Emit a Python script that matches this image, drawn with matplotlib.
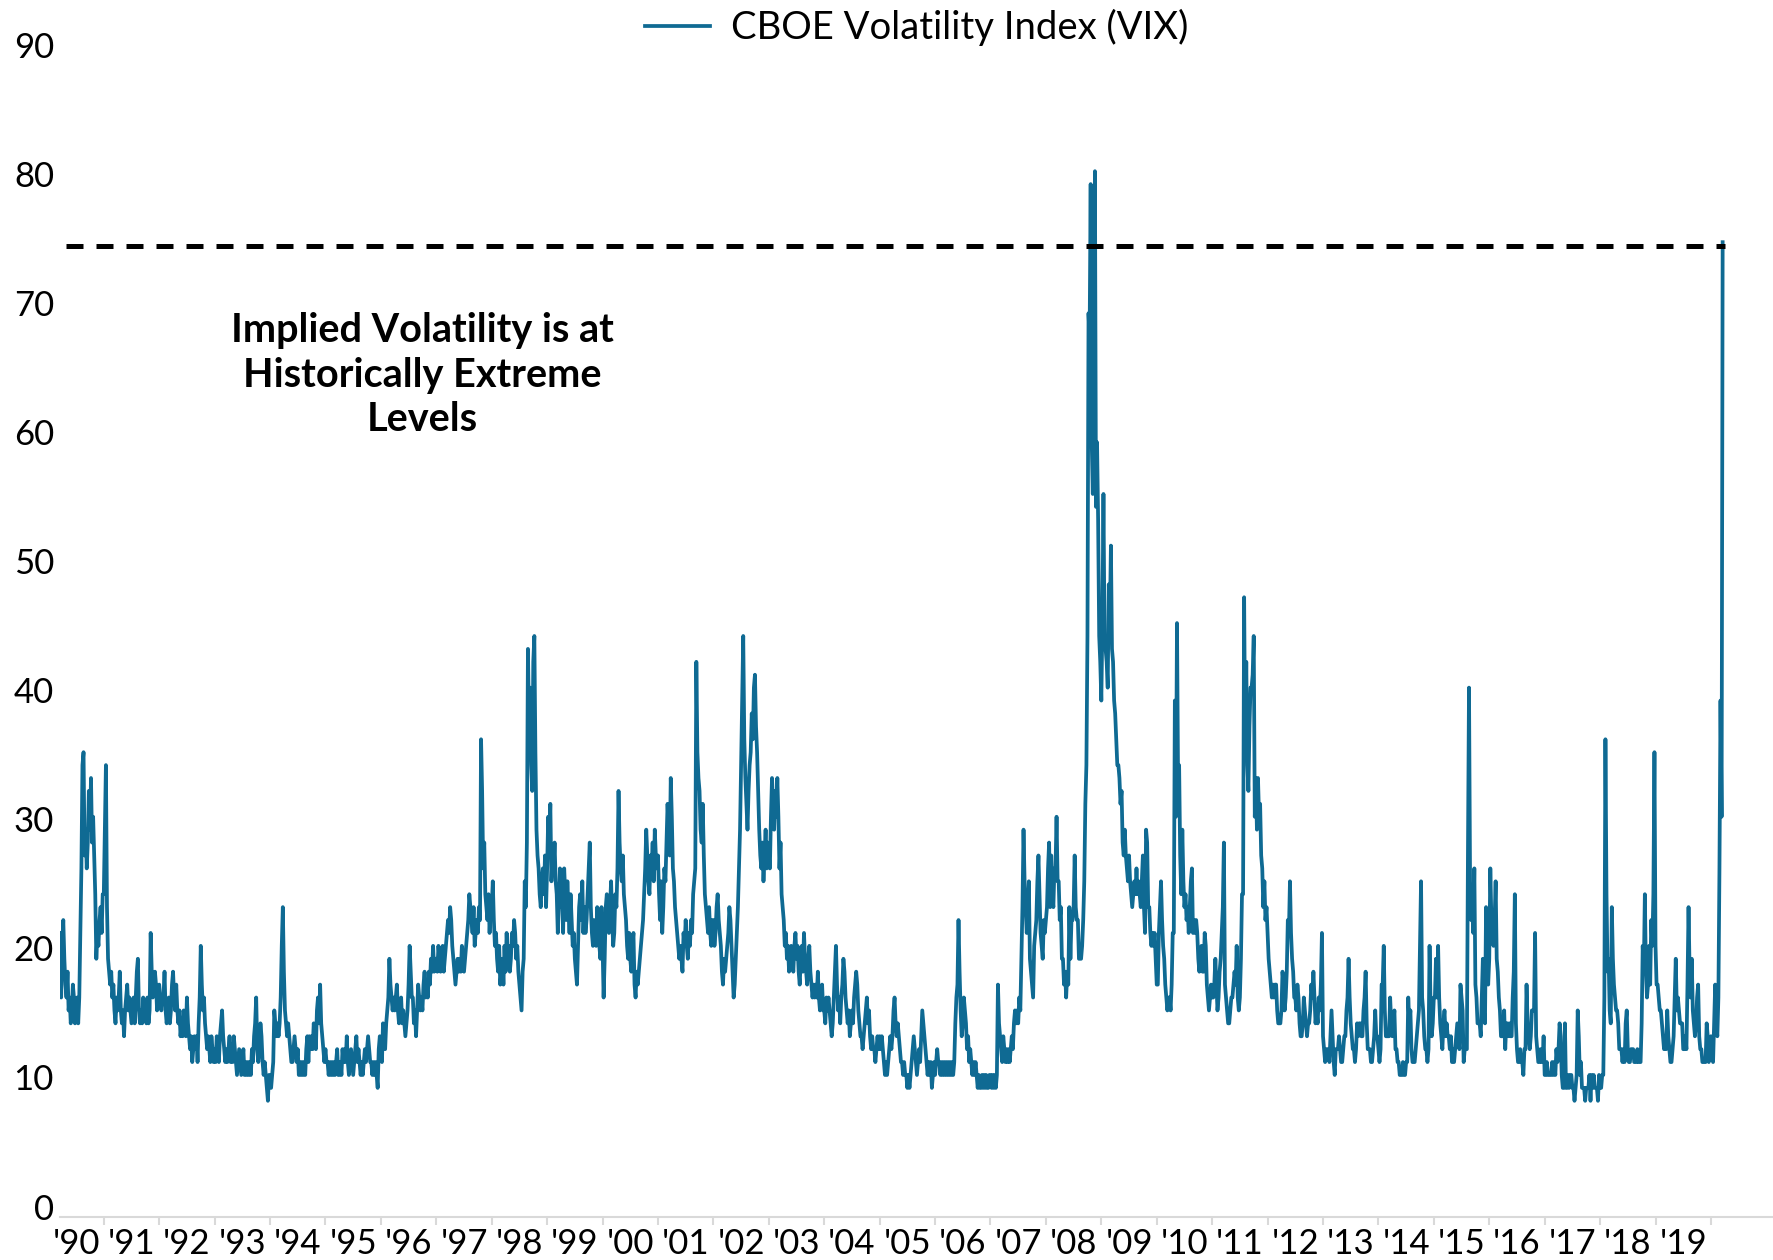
import matplotlib.pyplot as plt
from matplotlib.transforms import ScaledTranslation

# weekly VIX closes, one list per calendar year
vix_1990 = [22, 17, 21, 23, 20, 18, 17, 19, 16, 17, 15, 16, 18, 17, 15, 16, 17, 15, 17, 22,
            27, 35, 36, 28, 30, 27, 29, 33, 30, 34, 29, 31, 28, 25, 20, 22, 21, 23, 24, 22, 25]
vix_1991 = [25, 30, 35, 24, 20, 19, 18, 19, 17, 18, 16, 15, 17, 16, 17, 19, 16, 15, 16, 14, 16, 17, 18, 16, 17, 16,
            15, 16, 17, 15, 17, 19, 20, 16, 15, 16, 15, 17, 16, 16, 15, 17, 15, 16, 22, 19, 17, 18, 19, 18, 16, 17]
vix_1992 = [18, 17, 16, 17, 17, 19, 16, 15, 16, 17, 15, 16, 18, 19, 17, 16, 18, 16, 15, 16, 14, 15, 14, 16, 15, 14,
            17, 15, 14, 13, 14, 12, 13, 14, 13, 14, 12, 15, 17, 21, 18, 16, 17, 15, 14, 13, 14, 13, 12, 14, 13, 12]
vix_1993 = [13, 12, 14, 13, 12, 14, 15, 16, 14, 13, 12, 13, 12, 13, 14, 12, 13, 12, 14, 13, 12, 11, 12, 13, 12, 11,
            12, 13, 11, 12, 11, 12, 11, 12, 11, 13, 12, 14, 15, 17, 13, 12, 13, 15, 14, 12, 11, 12, 11, 10, 9, 11]
vix_1994 = [11, 10, 11, 12, 16, 15, 14, 15, 14, 15, 17, 21, 24, 19, 16, 15, 14, 15, 14, 13, 12, 12, 13, 14, 13, 12,
            13, 11, 12, 11, 12, 11, 12, 11, 13, 14, 12, 14, 13, 14, 13, 15, 14, 13, 16, 17, 15, 18, 15, 14, 13, 12]
vix_1995 = [13, 12, 12, 11, 12, 11, 12, 11, 12, 11, 12, 13, 11, 11, 12, 11, 13, 12, 13, 12, 14, 12, 11, 12, 13, 12,
            11, 12, 13, 14, 12, 13, 12, 11, 12, 11, 12, 13, 12, 13, 14, 13, 12, 12, 11, 12, 11, 12, 11, 10, 13, 14]
vix_1996 = [13, 12, 15, 14, 13, 15, 16, 17, 20, 18, 17, 16, 17, 16, 17, 18, 16, 15, 16, 17, 15, 16, 15, 14, 15, 16,
            18, 21, 19, 17, 17, 15, 16, 14, 16, 18, 17, 16, 17, 16, 18, 19, 17, 18, 17, 19, 18, 20, 19, 21, 19, 20]
vix_1997 = [20, 19, 21, 20, 19, 20, 21, 19, 20, 21, 22, 23, 22, 24, 23, 21, 20, 19, 18, 19, 20, 19, 20, 19, 21, 20,
            19, 20, 21, 22, 23, 25, 24, 23, 22, 24, 21, 22, 23, 22, 24, 23, 37, 33, 27, 29, 25, 24, 23, 25, 22, 24]
vix_1998 = [24, 26, 23, 21, 22, 20, 19, 21, 18, 19, 20, 18, 21, 19, 22, 20, 21, 19, 20, 22, 21, 23, 22, 20, 21, 19,
            18, 17, 16, 19, 20, 26, 24, 29, 44, 38, 41, 35, 33, 43, 45, 36, 30, 28, 27, 25, 24, 26, 27, 25, 28, 24]
vix_1999 = [27, 31, 29, 32, 26, 28, 27, 29, 26, 25, 22, 24, 27, 24, 26, 22, 27, 25, 23, 26, 24, 22, 25, 23, 21, 22,
            20, 19, 18, 21, 24, 25, 23, 26, 22, 24, 22, 23, 25, 27, 29, 24, 22, 21, 23, 22, 21, 24, 22, 21, 20, 24]
vix_2000 = [21, 17, 20, 24, 25, 23, 22, 24, 26, 23, 21, 22, 25, 24, 27, 33, 29, 27, 26, 28, 25, 24, 23, 21, 20, 22,
            20, 19, 21, 22, 18, 17, 19, 18, 19, 20, 21, 22, 23, 25, 27, 30, 28, 26, 25, 28, 27, 29, 26, 30, 28, 27]
vix_2001 = [28, 25, 23, 26, 22, 24, 27, 26, 29, 32, 30, 28, 34, 31, 27, 26, 24, 23, 22, 21, 20, 21, 20, 19, 22, 21,
            23, 21, 20, 22, 21, 23, 22, 25, 26, 27, 43, 36, 34, 33, 30, 29, 32, 28, 25, 24, 23, 22, 24, 22, 21, 23]
vix_2002 = [23, 21, 22, 24, 25, 23, 22, 21, 19, 18, 20, 19, 20, 21, 22, 24, 23, 21, 19, 17, 18, 20, 22, 24, 27, 30,
            35, 40, 45, 37, 34, 32, 30, 33, 35, 36, 39, 37, 41, 42, 38, 36, 33, 30, 28, 27, 29, 26, 28, 30, 27, 29]
vix_2003 = [28, 27, 31, 34, 32, 30, 33, 31, 34, 31, 27, 29, 25, 24, 23, 21, 22, 20, 21, 19, 20, 21, 20, 19, 21, 22,
            20, 21, 19, 18, 20, 21, 19, 22, 20, 19, 18, 20, 21, 19, 18, 17, 18, 17, 18, 17, 19, 17, 16, 17, 18, 16]
vix_2004 = [16, 15, 17, 16, 17, 16, 15, 14, 15, 17, 19, 21, 18, 16, 17, 15, 17, 18, 20, 19, 17, 16, 15, 16, 14, 15,
            16, 15, 17, 18, 19, 18, 16, 15, 14, 14, 13, 14, 15, 16, 17, 15, 16, 14, 13, 14, 13, 13, 12, 13, 14, 13]
vix_2005 = [14, 13, 14, 13, 12, 11, 12, 11, 12, 13, 14, 13, 14, 16, 17, 15, 14, 15, 14, 13, 12, 12, 11, 12, 11, 11,
            10, 11, 10, 11, 12, 13, 14, 13, 12, 11, 12, 13, 12, 14, 16, 15, 14, 13, 12, 11, 12, 11, 12, 10, 11, 12]
vix_2006 = [11, 12, 13, 12, 12, 11, 12, 11, 12, 11, 12, 11, 12, 11, 12, 11, 12, 11, 12, 15, 17, 18, 23, 19, 16, 14,
            15, 17, 16, 15, 13, 14, 12, 13, 12, 11, 12, 11, 12, 11, 10, 11, 10, 10, 11, 10, 11, 10, 11, 10, 10, 11]
vix_2007 = [11, 10, 11, 10, 11, 10, 11, 18, 15, 14, 13, 12, 14, 13, 12, 13, 12, 13, 12, 13, 14, 13, 15, 16, 15, 16,
            15, 17, 16, 20, 24, 30, 26, 24, 22, 23, 26, 20, 19, 18, 17, 21, 22, 23, 26, 28, 25, 22, 21, 20, 23, 22]
vix_2008 = [23, 24, 27, 29, 24, 28, 25, 24, 27, 27, 31, 26, 26, 23, 24, 20, 20, 18, 19, 17, 19, 18, 24, 20, 23, 23,
            24, 28, 24, 23, 23, 20, 20, 20, 21, 23, 26, 32, 35, 45, 70, 68, 80, 60, 56, 66, 81, 55, 60, 54, 45, 43]
vix_2009 = [40, 46, 56, 45, 44, 43, 41, 49, 46, 52, 44, 43, 40, 39, 37, 35, 35, 34, 32, 33, 29, 28, 30, 28, 27, 26,
            28, 26, 25, 24, 25, 26, 25, 27, 25, 26, 25, 24, 26, 28, 24, 22, 30, 29, 24, 24, 22, 21, 22, 21, 22, 20]
vix_2010 = [18, 18, 22, 24, 26, 23, 21, 20, 18, 17, 16, 17, 17, 16, 18, 22, 22, 40, 31, 46, 34, 35, 28, 25, 30, 26,
            24, 25, 23, 24, 22, 24, 26, 27, 22, 23, 22, 23, 22, 20, 19, 20, 21, 19, 19, 22, 21, 18, 17, 16, 17, 18]
vix_2011 = [17, 17, 18, 20, 18, 16, 17, 19, 20, 22, 24, 29, 18, 17, 16, 15, 15, 16, 17, 17, 18, 19, 18, 21, 17, 16,
            17, 20, 25, 25, 48, 36, 43, 35, 33, 38, 41, 41, 42, 45, 31, 34, 30, 34, 31, 32, 28, 27, 24, 26, 23, 24]
vix_2012 = [22, 20, 19, 18, 17, 18, 17, 18, 18, 16, 15, 15, 15, 16, 19, 18, 16, 17, 19, 23, 22, 26, 22, 20, 19, 17,
            17, 16, 18, 17, 15, 14, 14, 15, 17, 16, 15, 14, 15, 15, 16, 18, 17, 19, 17, 15, 16, 15, 17, 16, 18, 22]
vix_2013 = [14, 13, 12, 13, 13, 13, 12, 14, 16, 14, 12, 11, 13, 13, 13, 14, 13, 12, 12, 13, 14, 14, 16, 17, 20, 17,
            15, 14, 13, 13, 12, 13, 15, 14, 15, 15, 14, 14, 16, 17, 19, 15, 13, 13, 13, 12, 12, 13, 14, 16, 14, 14]
vix_2014 = [13, 12, 13, 18, 18, 21, 16, 14, 14, 14, 14, 17, 15, 14, 15, 16, 13, 13, 12, 12, 11, 11, 11, 12, 11, 11,
            12, 12, 17, 15, 16, 13, 12, 12, 12, 13, 14, 15, 16, 21, 26, 17, 16, 14, 13, 13, 12, 13, 21, 16, 14, 15]
vix_2015 = [17, 17, 20, 17, 21, 17, 15, 14, 13, 15, 16, 14, 15, 14, 14, 13, 14, 12, 13, 12, 13, 14, 15, 14, 13, 18,
            17, 16, 12, 13, 13, 13, 28, 41, 26, 23, 24, 22, 27, 18, 17, 15, 15, 15, 14, 17, 20, 16, 15, 24, 20, 18]
vix_2016 = [20, 27, 23, 22, 21, 23, 26, 20, 19, 17, 16, 14, 14, 14, 16, 13, 15, 15, 14, 15, 14, 14, 17, 19, 25, 15,
            13, 12, 12, 13, 12, 12, 11, 13, 13, 18, 15, 14, 13, 14, 16, 16, 16, 22, 14, 13, 12, 12, 13, 12, 12, 14]
vix_2017 = [11, 11, 12, 11, 11, 11, 11, 12, 11, 12, 11, 13, 12, 13, 15, 14, 11, 10, 10, 15, 10, 10, 11, 10, 11, 11,
            10, 10, 9, 10, 11, 16, 14, 11, 12, 10, 10, 10, 9, 10, 10, 10, 11, 9, 11, 10, 11, 10, 10, 10, 9, 11]
vix_2018 = [10, 10, 11, 11, 17, 37, 25, 19, 20, 16, 15, 24, 20, 18, 17, 16, 16, 15, 13, 13, 13, 12, 13, 12, 15, 16,
            13, 12, 12, 13, 13, 13, 12, 12, 12, 13, 12, 12, 12, 15, 21, 19, 25, 19, 17, 18, 21, 18, 23, 21, 25, 36]
vix_2019 = [21, 18, 18, 17, 16, 16, 15, 14, 13, 14, 13, 16, 14, 13, 12, 12, 13, 14, 17, 20, 16, 17, 16, 15, 15, 15,
            13, 13, 14, 13, 18, 24, 19, 17, 20, 16, 15, 14, 15, 17, 18, 14, 13, 13, 12, 12, 12, 12, 15, 14, 12, 13]
vix_2020 = [14, 13, 12, 15, 18, 15, 14, 17, 27, 40, 31, 75.5]

years = list(range(1990, 2021))
weekly = [vix_1990, vix_1991, vix_1992, vix_1993, vix_1994, vix_1995, vix_1996, vix_1997, vix_1998, vix_1999,
          vix_2000, vix_2001, vix_2002, vix_2003, vix_2004, vix_2005, vix_2006, vix_2007, vix_2008, vix_2009,
          vix_2010, vix_2011, vix_2012, vix_2013, vix_2014, vix_2015, vix_2016, vix_2017, vix_2018, vix_2019,
          vix_2020]
first_week = {1990: 11}  # the series starts in mid March 1990

y_ticks = [0, 10, 20, 30, 40, 50, 60, 70, 80, 90]
year_labels = ["'" + str(yr)[2:] for yr in years[:-1]]
extreme_level = 75.2
note = "Implied Volatility is at\nHistorically Extreme\nLevels"

blue = "#0F6A93"
grey = "#D9D9D9"
plt.rcParams['font.family'] = ['Lato', 'DejaVu Sans']

# turn the per-year lists into one series on a decimal-year axis
x = []
y = []
for yr, vals in zip(years, weekly):
    start = first_week.get(yr, 0)
    n = 52 if yr == 2020 else start + len(vals)
    for i, v in enumerate(vals):
        x.append(yr + (start + i) / n)
        y.append(v)

fig = plt.figure(figsize=(17.73, 12.6), dpi=100)
ax = fig.add_axes([60 / 1773, 1 - 1217 / 1260, 1 - 60 / 1773, 1162 / 1260])

ax.plot(x, y, color=blue, linewidth=2.7, label="CBOE Volatility Index (VIX)", zorder=2)
ax.hlines(extreme_level, 1990.32, 2020.25, colors="black", linewidth=3.6,
          linestyles=(0, (3.4, 2.6)), zorder=3)

ax.set_xlim(1990.21, 2021.12)
ax.set_ylim(0, 90)

for side in ["top", "right", "left"]:
    ax.spines[side].set_visible(False)
ax.spines["bottom"].set_color(grey)
ax.spines["bottom"].set_linewidth(1.5)

# year boundaries get the small grey ticks, labels sit mid-year
ax.set_xticks(years[1:])
ax.set_xticklabels([])
ax.set_xticks([yr + 0.5 for yr in years[:-1]], minor=True)
ax.set_xticklabels(year_labels, minor=True, fontsize=25)
ax.tick_params(axis="x", which="major", length=6, width=1.5, color=grey)
ax.tick_params(axis="x", which="minor", length=0, pad=8)

# y labels sit a little above their values, as in the original
ax.set_yticks([])
lab_tr = ax.get_yaxis_transform() + ScaledTranslation(-0.06, 0.075, fig.dpi_scale_trans)
for t in y_ticks:
    ax.text(0, t, str(t), transform=lab_tr, ha="right", va="center", fontsize=25)

ax.text(1996.75, 65.2, note, ha="center", va="center", fontsize=28.5, fontweight="bold",
        linespacing=1.25)

fig.legend(loc="center", bbox_to_anchor=(0.517, 0.978), frameon=False, fontsize=27.5,
           handlelength=1.7, handletextpad=0.56, borderpad=0)

fig.savefig("out.png", dpi=100)
